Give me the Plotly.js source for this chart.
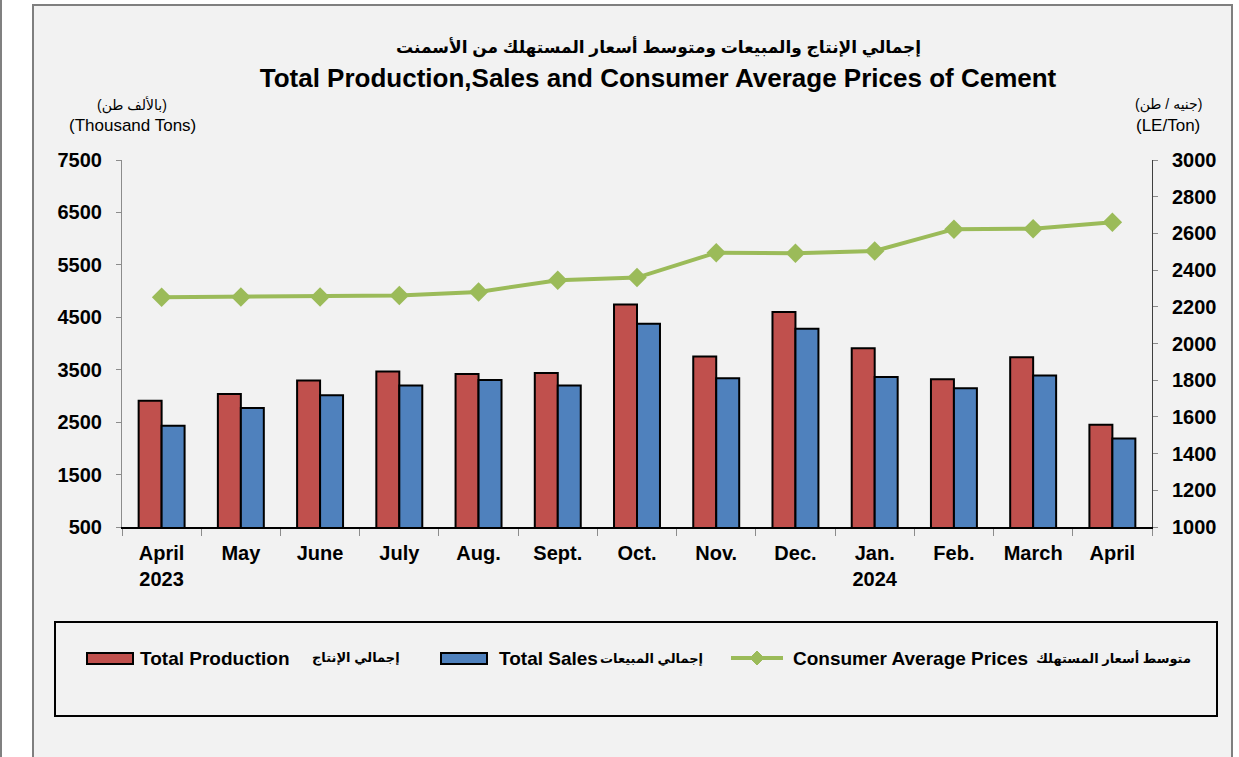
<!DOCTYPE html>
<html>
<head>
<meta charset="utf-8">
<script src="https://cdn.plot.ly/plotly-3.0.1.min.js"></script>
<style>html,body{margin:0;padding:0;background:#fff;}#chart{width:1239px;height:757px;}</style>
</head>
<body>
<div id="chart"></div>
<script>
const categories = ["April<br>2023","May","June","July","Aug.","Sept.","Oct.","Nov.","Dec.","Jan.<br>2024","Feb.","March","April"];
const production = [2910, 3035, 3295, 3465, 3420, 3435, 4745, 3750, 4600, 3910, 3320, 3740, 2450];
const sales = [2430, 2770, 3015, 3200, 3305, 3200, 4375, 3335, 4280, 3360, 3145, 3390, 2190];
const prices = [2252, 2254, 2254, 2261, 2281, 2345, 2359, 2495, 2492, 2504, 2623, 2626, 2661];
const leftTicks = [500, 1500, 2500, 3500, 4500, 5500, 6500, 7500];
const rightTicks = [1000, 1200, 1400, 1600, 1800, 2000, 2200, 2400, 2600, 2800, 3000];

const titleAr = "إجمالي الإنتاج والمبيعات ومتوسط أسعار المستهلك من الأسمنت";
const titleEn = "Total Production,Sales and Consumer Average Prices of Cement";
const nameProd = "Total Production", nameProdAr = "إجمالي الإنتاج";
const nameSales = "Total Sales", nameSalesAr = "إجمالي المبيعات";
const namePrice = "Consumer Average Prices", namePriceAr = "متوسط أسعار المستهلك";

const FONT = "Liberation Sans, Arial, DejaVu Sans, sans-serif";
const W = 1239, H = 757, L = 122, R = 87, T = 160, B = 230;
const PW = W - L - R, PH = H - T - B;
const px = x => (x - L) / PW;
const py = y => (H - B - y) / PH;

const RED = "#C0504D", BLUE = "#4F81BD", GREEN = "#9BBB59";

const traces = [
  {type: "bar", name: nameProd, x: categories, y: production, marker: {color: RED, line: {color: "#000", width: 2}}, showlegend: false},
  {type: "bar", name: nameSales, x: categories, y: sales, marker: {color: BLUE, line: {color: "#000", width: 2}}, showlegend: false},
  {type: "scatter", mode: "lines+markers", name: namePrice, x: categories, y: prices, yaxis: "y2",
   line: {color: GREEN, width: 4}, marker: {symbol: "diamond", size: 15, color: GREEN}, showlegend: false}
];

function txt(x, y, text, size, bold, anchor) {
  return {xref: "paper", yref: "paper", x: px(x), y: py(y), xanchor: anchor || "center", yanchor: "middle",
    text: bold ? "<b>" + text + "</b>" : text, showarrow: false, font: {family: FONT, size: size, color: "#000"}};
}

const legY = 658;
const shapes = [
  {type: "rect", xref: "paper", yref: "paper", x0: px(33), x1: px(1232), y0: py(5), y1: py(762), fillcolor: "#f2f2f2", line: {color: "#7f7f7f", width: 2}, layer: "below"},
  {type: "line", xref: "paper", yref: "paper", x0: px(1), x1: px(1), y0: py(0), y1: py(757), line: {color: "#808080", width: 2}, layer: "below"},
  {type: "rect", xref: "paper", yref: "paper", x0: px(55), x1: px(1217), y0: py(622), y1: py(716), line: {color: "#000", width: 2}, layer: "below"},
  {type: "rect", xref: "paper", yref: "paper", x0: px(87), x1: px(133), y0: py(653), y1: py(664), fillcolor: RED, line: {color: "#000", width: 2}},
  {type: "rect", xref: "paper", yref: "paper", x0: px(441), x1: px(487), y0: py(653), y1: py(664), fillcolor: BLUE, line: {color: "#000", width: 2}},
  {type: "line", xref: "paper", yref: "paper", x0: px(731), x1: px(783), y0: py(legY), y1: py(legY), line: {color: GREEN, width: 4}},
  {type: "path", xref: "paper", yref: "paper",
   path: "M " + px(757) + "," + py(651) + " L " + px(764) + "," + py(legY) + " L " + px(757) + "," + py(665) + " L " + px(750) + "," + py(legY) + " Z",
   fillcolor: GREEN, line: {color: GREEN, width: 1}}
];

const annotations = [
  txt(658, 47, titleAr, 17, true),
  txt(132, 105, "(بالألف طن)", 14, false),
  txt(132, 126, "(Thousand Tons)", 17, false),
  txt(1168, 105, "(جنيه / طن)", 14, false),
  txt(1168, 126, "(LE/Ton)", 17, false),
  txt(138, legY, nameProd, 19, true, "left"),
  txt(402, legY, nameProdAr, 13, true, "right"),
  txt(497, legY, nameSales, 19, true, "left"),
  txt(705, legY, nameSalesAr, 13, true, "right"),
  txt(791, legY, namePrice, 19, true, "left"),
  txt(1193, legY, namePriceAr, 13, true, "right")
];

const tickFont = {family: FONT, size: 20, color: "#000", weight: "bold"};

const layout = {
  width: W, height: H,
  margin: {l: L, r: R, t: T, b: B, autoexpand: false},
  paper_bgcolor: "#ffffff", plot_bgcolor: "rgba(0,0,0,0)",
  font: {family: FONT, color: "#000"},
  title: {text: "<b>" + titleEn + "</b>", font: {family: FONT, size: 26, color: "#000"}, x: 658 / W, xanchor: "center", y: 1 - 78 / H, yanchor: "middle", yref: "container"},
  barmode: "group", bargap: 0.42, bargroupgap: 0,
  xaxis: {type: "category", range: [-0.5, 12.5], showgrid: false, zeroline: false, showline: true, linecolor: "#000", linewidth: 1.5,
    ticks: "outside", tickson: "boundaries", ticklen: 7, tickcolor: "#8c8c8c", tickwidth: 1,
    tickfont: tickFont, tickangle: 0, ticklabelstandoff: 7, fixedrange: true},
  yaxis: {range: [500, 7500], tickvals: leftTicks, ticktext: leftTicks.map(String), showgrid: false, zeroline: false,
    showline: true, linecolor: "#8c8c8c", linewidth: 1, ticks: "outside", ticklen: 5, tickcolor: "#8c8c8c",
    tickfont: tickFont, ticklabelstandoff: 10, fixedrange: true},
  yaxis2: {range: [1000, 3000], tickvals: rightTicks, ticktext: rightTicks.map(String), overlaying: "y", side: "right",
    showgrid: false, zeroline: false, showline: true, linecolor: "#404040", linewidth: 1, ticks: "outside", ticklen: 5,
    tickcolor: "#8c8c8c", tickfont: tickFont, ticklabelstandoff: 10, fixedrange: true},
  shapes: shapes,
  annotations: annotations,
  showlegend: false
};

Plotly.newPlot("chart", traces, layout, {staticPlot: true, displayModeBar: false});
</script>
</body>
</html>
